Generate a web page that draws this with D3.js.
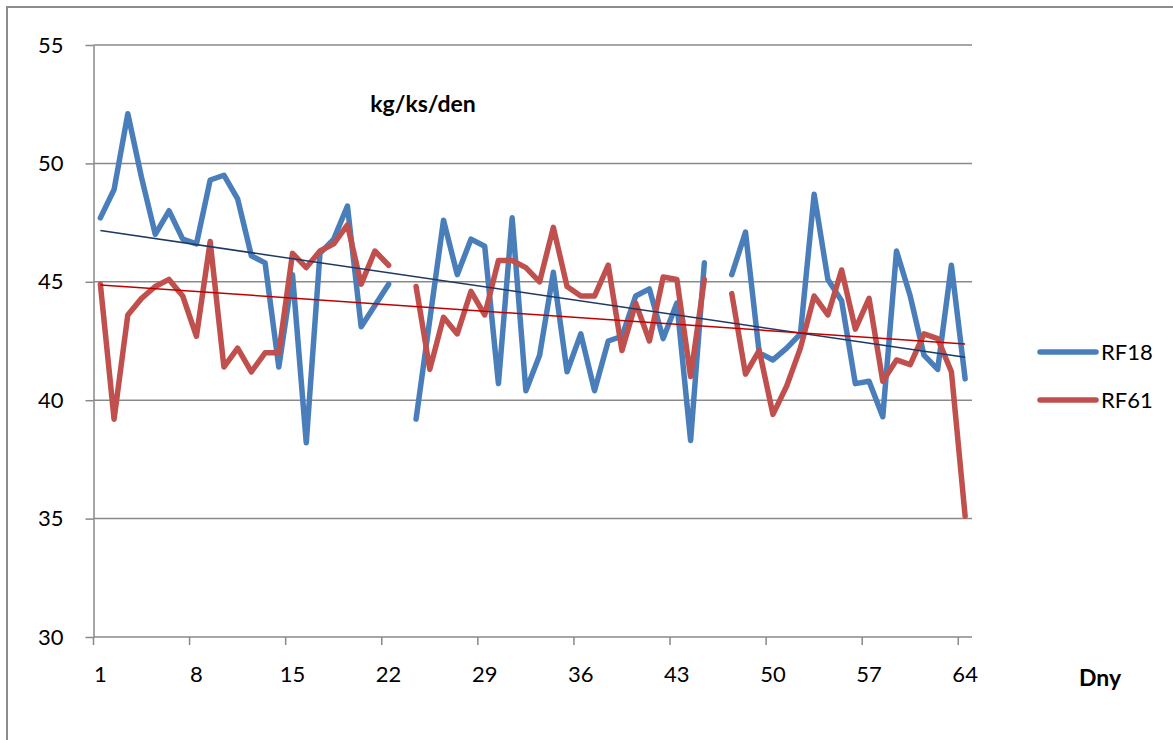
<!DOCTYPE html>
<html>
<head>
<meta charset="utf-8">
<script src="https://cdnjs.cloudflare.com/ajax/libs/d3/7.8.5/d3.min.js"></script>
<style>
  body { margin: 0; background: #fff; }
  text { font-family: Lato, "Open Sans", sans-serif; fill: #000; }
</style>
</head>
<body>
<svg id="chart" width="1173" height="740"></svg>
<script>
/*********************************** DATOS ***********************************/
var days = d3.range(1, 65);                          // dias 1..64
var tickDays = [1, 8, 15, 22, 29, 36, 43, 50, 57, 64];
var yTicks = [30, 35, 40, 45, 50, 55];

var rf18 = [47.7, 48.9, 52.1, 49.4, 47.0, 48.0, 46.8, 46.6, 49.3, 49.5,
            48.5, 46.1, 45.8, 41.4, 45.3, 38.2, 46.2, 46.8, 48.2, 43.1,
            44.0, 44.9, null, 39.2, 43.4, 47.6, 45.3, 46.8, 46.5, 40.7,
            47.7, 40.4, 41.9, 45.4, 41.2, 42.8, 40.4, 42.5, 42.7, 44.4,
            44.7, 42.6, 44.1, 38.3, 45.8, null, 45.3, 47.1, 42.0, 41.7,
            42.2, 42.8, 48.7, 45.1, 44.2, 40.7, 40.8, 39.3, 46.3, 44.4,
            41.9, 41.3, 45.7, 40.9];

var rf61 = [44.9, 39.2, 43.6, 44.3, 44.8, 45.1, 44.4, 42.7, 46.7, 41.4,
            42.2, 41.2, 42.0, 42.0, 46.2, 45.6, 46.3, 46.6, 47.4, 44.9,
            46.3, 45.7, null, 44.8, 41.3, 43.5, 42.8, 44.6, 43.6, 45.9,
            45.9, 45.6, 45.0, 47.3, 44.8, 44.4, 44.4, 45.7, 42.1, 44.1,
            42.5, 45.2, 45.1, 41.0, 45.1, null, 44.5, 41.1, 42.1, 39.4,
            40.6, 42.2, 44.4, 43.6, 45.5, 43.0, 44.3, 40.8, 41.7, 41.5,
            42.8, 42.6, 41.2, 35.1];

var series = [
  { name: "RF18", values: rf18, color: "#4a7ebb", trend: "#1f3864" },
  { name: "RF61", values: rf61, color: "#c0504d", trend: "#c00000" }
];

/*********************************** ESCALAS ***********************************/
var svg = d3.select("#chart");
var plotLeft = 93.5, plotRight = 972, plotTop = 45, plotBottom = 637;
var gridColor = "#898989";

var x = d3.scaleBand().domain(days).range([plotLeft, plotRight]).padding(0);
var y = d3.scaleLinear().domain([30, 55]).range([plotBottom, plotTop]);
var bw = x.bandwidth();
function cx(d) { return x(d) + bw / 2; }

// marco del documento
svg.append("path")
  .attr("d", "M7,740V7H1173")
  .attr("fill", "none")
  .attr("stroke", "#8c8c8c")
  .attr("stroke-width", 2);

// lineas de la cuadricula
svg.append("g").selectAll("line")
  .data(yTicks.filter(function(d) { return d > 30; }))
  .enter().append("line")
  .attr("x1", plotLeft).attr("x2", plotRight)
  .attr("y1", function(d) { return y(d); })
  .attr("y2", function(d) { return y(d); })
  .attr("stroke", gridColor)
  .attr("stroke-width", 1.5);

/*********************************** EJES ***********************************/
var yAxis = svg.append("g")
  .attr("transform", "translate(" + plotLeft + ",0)")
  .call(d3.axisLeft(y).tickValues(yTicks).tickSize(8).tickSizeOuter(0).tickPadding(22));
yAxis.selectAll("path, line").attr("stroke", gridColor).attr("stroke-width", 1.5);
yAxis.selectAll("text").style("font-size", "22px").attr("fill", "#000");

var xAxis = svg.append("g")
  .attr("transform", "translate(0," + plotBottom + ")")
  .call(d3.axisBottom(x).tickValues(tickDays).tickSize(8).tickSizeOuter(0));
xAxis.select(".domain").attr("d", "M" + plotLeft + ",0H" + plotRight);
xAxis.selectAll("path, line").attr("stroke", gridColor).attr("stroke-width", 1.5);
xAxis.selectAll(".tick line").attr("x1", -bw / 2).attr("x2", -bw / 2);
xAxis.selectAll("text").style("font-size", "22px").attr("fill", "#000")
  .attr("y", 37).attr("dy", "0.35em");

/*********************************** LINEAS ***********************************/
var line = d3.line()
  .defined(function(d) { return d.v != null; })
  .x(function(d) { return cx(d.day); })
  .y(function(d) { return y(d.v); });

// tendencia lineal (minimos cuadrados sobre los dias con dato)
function trendOf(values) {
  var pts = [];
  values.forEach(function(v, i) { if (v != null) pts.push([days[i], v]); });
  var mx = d3.mean(pts, function(p) { return p[0]; });
  var my = d3.mean(pts, function(p) { return p[1]; });
  var num = d3.sum(pts, function(p) { return (p[0] - mx) * (p[1] - my); });
  var den = d3.sum(pts, function(p) { return (p[0] - mx) * (p[0] - mx); });
  var b = num / den, a = my - b * mx;
  var d0 = days[0], d1 = days[days.length - 1];
  return [{ day: d0, v: a + b * d0 }, { day: d1, v: a + b * d1 }];
}

series.forEach(function(s) {
  var pts = s.values.map(function(v, i) { return { day: days[i], v: v }; });
  svg.append("path")
    .datum(pts)
    .attr("d", line)
    .attr("fill", "none")
    .attr("stroke", s.color)
    .attr("stroke-width", 5.5)
    .attr("stroke-linejoin", "round")
    .attr("stroke-linecap", "round");
});

series.forEach(function(s) {
  svg.append("path")
    .datum(trendOf(s.values))
    .attr("d", line)
    .attr("fill", "none")
    .attr("stroke", s.trend)
    .attr("stroke-width", 1.5);
});

/*********************************** TEXTOS ***********************************/
svg.append("text")
  .attr("x", 423).attr("y", 112)
  .attr("text-anchor", "middle")
  .style("font-size", "23px").style("font-weight", "bold")
  .text("kg/ks/den");

svg.append("text")
  .attr("x", 1100).attr("y", 686)
  .attr("text-anchor", "middle")
  .style("font-size", "23px").style("font-weight", "bold")
  .text("Dny");

var legend = svg.selectAll(".legend")
  .data(series)
  .enter().append("g")
  .attr("class", "legend")
  .attr("transform", function(d, i) { return "translate(1040," + (352 + i * 48) + ")"; });

legend.append("line")
  .attr("x1", 0).attr("x2", 56)
  .attr("stroke", function(d) { return d.color; })
  .attr("stroke-width", 5.5)
  .attr("stroke-linecap", "round");

legend.append("text")
  .attr("x", 61).attr("dy", "0.35em")
  .style("font-size", "22px")
  .text(function(d) { return d.name; });
</script>
</body>
</html>
